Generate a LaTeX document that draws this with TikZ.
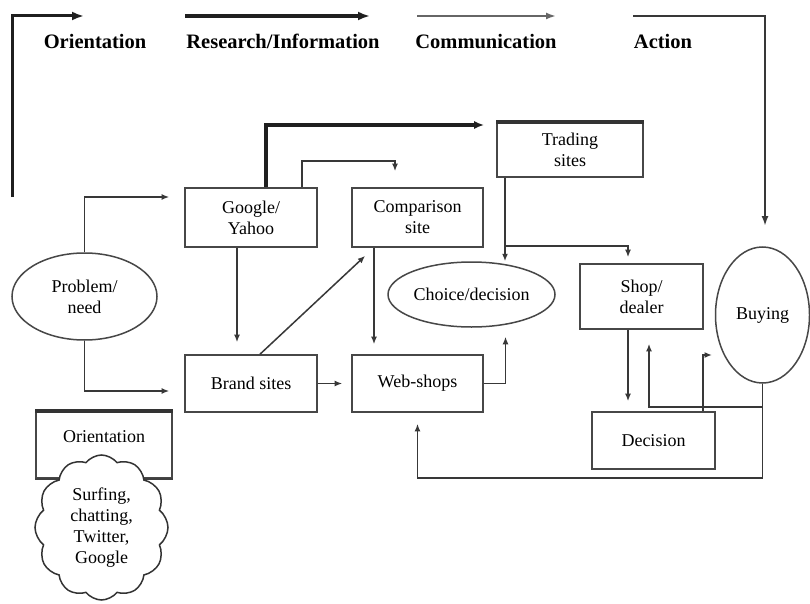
\documentclass[tikz,border=0pt]{standalone}
\usepackage{fontspec}
\setmainfont{Liberation Serif}
\usetikzlibrary{arrows.meta,shapes.geometric,shapes.symbols}
\begin{document}
\begin{tikzpicture}[x=1pt,y=-1pt,
  txt/.style={font=\fontsize{18}{21}\selectfont,text=black,align=center},
  box/.style={txt,draw=black!72,line width=1.6pt,rectangle,inner sep=0pt},
  oval/.style={txt,draw=black!72,line width=1.5pt,ellipse,inner sep=0pt},
  conn/.style={draw=black!78,line width=1.5pt,-{Latex[length=7.5pt,width=6pt]}},
  heavy/.style={draw=black!88,line width=3.4pt},
  phase/.style={font=\bfseries\fontsize{20.5}{24}\selectfont,text=black,anchor=base},
  bighead/.style={-{Latex[length=12pt,width=9pt]}}
]
\useasboundingbox[fill=white] (0,0) rectangle (810,604);

% phase headings and their arrows
\node[phase] (hOri) at (95,49) {Orientation};
\node[phase] (hRes) at (283,49) {Research/Information};
\node[phase] (hCom) at (486,49) {Communication};
\node[phase] (hAct) at (663,49) {Action};

\coordinate (o1) at (12,197);
\coordinate (o2) at (12,16);
\coordinate (o3) at (84,16);
\coordinate (r1) at (185,16);
\coordinate (r2) at (370,16);
\coordinate (c1) at (417,16);
\coordinate (c2) at (556,16);
\coordinate (a1) at (633,16);
\coordinate (a2) at (765,16);
\coordinate (a3) at (765,226);

\draw[heavy,bighead,line width=3pt] (o1) -- (o2) -- (o3);
\draw[heavy,bighead] (r1) -- (r2);
\draw[draw=black!60,line width=2pt,-{Latex[length=10pt,width=7pt]}] (c1) -- (c2);
\draw[draw=black!78,line width=2.2pt,-{Latex[length=10pt,width=7pt]}] (a1) -- (a2) -- (a3);

% main nodes
\node[box,minimum width=132pt,minimum height=59pt] (ggl) at (251,217.5) {Google/\\Yahoo};
\node[box,minimum width=131pt,minimum height=59pt] (cmp) at (417.5,217.5) {Comparison\\site};
\node[box,minimum width=146pt,minimum height=54pt] (trd) at (570,150) {Trading\\sites};
\draw[draw=black!80,line width=3.5pt] (trd.north west) -- (trd.north east);
\node[box,minimum width=132pt,minimum height=57pt] (brd) at (251,383.5) {Brand sites};
\node[box,minimum width=131pt,minimum height=57pt] (web) at (417.5,383.5) {Web-shops};
\node[box,minimum width=123pt,minimum height=65pt] (shp) at (641.5,296.5) {Shop/\\dealer};
\node[box,minimum width=123pt,minimum height=57pt] (dec) at (653.5,440.5) {Decision};
\node[oval,minimum width=145pt,minimum height=87pt] (prb) at (84.5,296.5) {Problem/\\need};
\node[oval,minimum width=167pt,minimum height=65pt] (chc) at (471.5,294.5) {Choice/decision};
\node[oval,minimum width=94pt,minimum height=136pt] (buy) at (762.5,315) {Buying};

% orientation box with its cloud of activities
\node[box,minimum width=136pt,minimum height=66pt] (ori) at (104,445) {};
\draw[draw=black!80,line width=3.5pt] (ori.north west) -- (ori.north east);
\draw[draw=black!75,line width=2.6pt] (ori.south west) -- (ori.south east);
\node[txt] (oriT) at (104,437) {Orientation};
\node[txt,cloud,cloud puffs=12,cloud puff arc=105,aspect=0.9,draw=black!80,line width=1.5pt,fill=white,
      minimum width=133pt,minimum height=145pt,inner sep=0pt] (cld) at (101.5,527.5)
      {Surfing,\\chatting,\\Twitter,\\Google};

% connectors
\draw[conn] (prb.north) |- ([shift={(-15,-20.5)}]ggl.west);
\draw[conn] (prb.south) |- ([shift={(-15,7.5)}]brd.west);
\draw[conn] ([shift={(-14,0)}]ggl.south) -- ([shift={(-14,-12)}]brd.north);
\draw[conn] ([shift={(9,0)}]brd.north) -- ([shift={(14,8)}]cmp.south west);
\draw[conn] ([shift={(-43.5,0)}]cmp.south) -- ([shift={(-43.5,-10)}]web.north);
\draw[conn] (brd.east) -- ([shift={(-9,0)}]web.west);
\draw[conn] (web.east) -| ([shift={(34,9)}]chc.south);
\draw[heavy,-{Latex[length=10pt,width=8pt]}] ([shift={(15,0)}]ggl.north) |- ([shift={(-12,-25)}]trd.west);
\draw[conn] ([shift={(51,0)}]ggl.north) |- ([shift={(-22.5,-26)}]cmp.north) -- ([shift={(-22.5,-16)}]cmp.north);
\draw[conn] ([shift={(-65,0)}]trd.south) -- ([shift={(33.5,0)}]chc.north);
\draw[conn] ([shift={(-65,68)}]trd.south) -| ([shift={(-13.5,-6)}]shp.north);
\draw[conn] ([shift={(-13.5,0)}]shp.south) -- ([shift={(-25.5,-10)}]dec.north);
\draw[conn] (buy.south) |- ([shift={(7.5,77)}]shp.south) -- ([shift={(7.5,14)}]shp.south);
\draw[conn] ([shift={(49.5,0)}]dec.north) |- ([shift={(-50.5,40)}]buy.center);
\draw[conn] (buy.south) -- ([shift={(0,94)}]buy.south) -| ([shift={(0,11)}]web.south);
\end{tikzpicture}
\end{document}
